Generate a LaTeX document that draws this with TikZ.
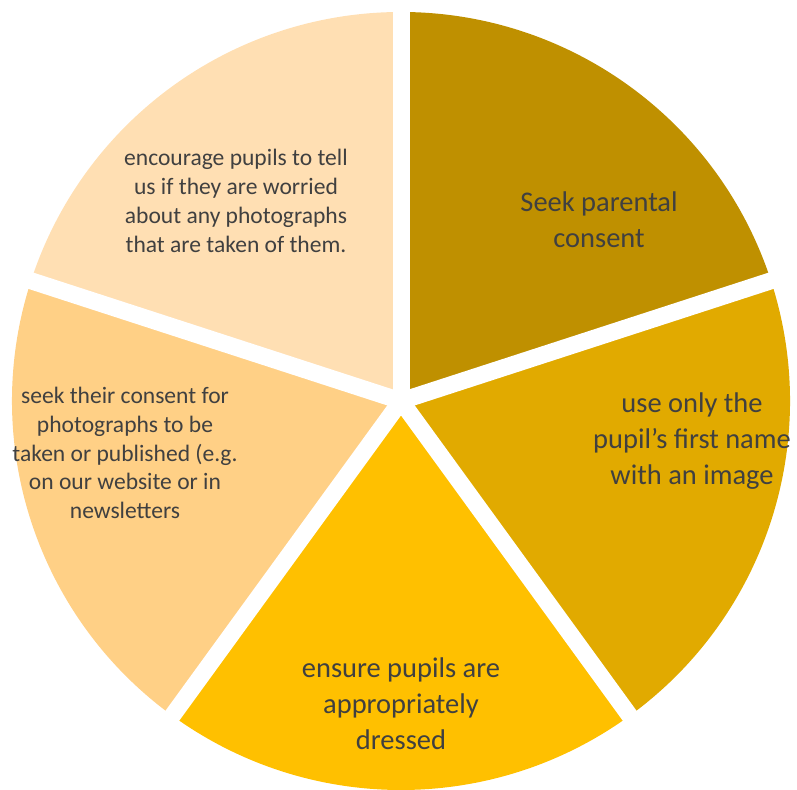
\documentclass[tikz,border=0pt]{standalone}
\usepackage{fontspec}
\setmainfont{Carlito}
\usepackage{xcolor}
\definecolor{darkgold}{HTML}{BF9000}
\definecolor{midgold}{HTML}{E1AA00}
\definecolor{gold}{HTML}{FFC000}
\definecolor{lightgold}{HTML}{FFD086}
\definecolor{palegold}{HTML}{FFDFB3}
\definecolor{labeltext}{HTML}{404040}
\tikzset{
  bigtext/.style={text=labeltext, align=center, font=\fontsize{16.2}{20.4}\selectfont},
  smalltext/.style={text=labeltext, align=center, font=\fontsize{13.4}{16.4}\selectfont},
  gap/.style={white, line width=0.34cm}
}

\begin{document}
\begin{tikzpicture}
\useasboundingbox (0,0) rectangle (15.94,15.8);
%\draw [help lines] (0,0) grid (16,16);
\coordinate (c) at (8.02,7.78);
\fill [darkgold] (c) -- ++(90:7.78) arc [start angle=90, end angle=18, radius=7.78] -- cycle;
\fill [midgold] (c) -- ++(18:7.78) arc [start angle=18, end angle=-54, radius=7.78] -- cycle;
\fill [gold] (c) -- ++(-54:7.78) arc [start angle=-54, end angle=-126, radius=7.78] -- cycle;
\fill [lightgold] (c) -- ++(-126:7.78) arc [start angle=-126, end angle=-198, radius=7.78] -- cycle;
\fill [palegold] (c) -- ++(162:7.78) arc [start angle=162, end angle=90, radius=7.78] -- cycle;
% white gaps between the slices
\draw [gap] (c) -- ++(90:8.2);
\draw [gap] (c) -- ++(18:8.2);
\draw [gap] (c) -- ++(-54:8.2);
\draw [gap] (c) -- ++(-126:8.2);
\draw [gap] (c) -- ++(162:8.2);
\node [bigtext] (consent) at (11.98,11.40) {Seek parental\\consent};
\node [bigtext] (firstname) at (13.84,6.98) {use only the\\pupil’s first name\\with an image};
\node [bigtext] (dressed) at (8.02,1.72) {ensure pupils are\\appropriately\\dressed};
\node [smalltext] (publish) at (2.50,6.74) {seek their consent for\\photographs to be\\taken or published (e.g.\\on our website or in\\newsletters};
\node [smalltext] (worried) at (4.72,11.78) {encourage pupils to tell\\us if they are worried\\about any photographs\\that are taken of them.};
\end{tikzpicture}
\end{document}
